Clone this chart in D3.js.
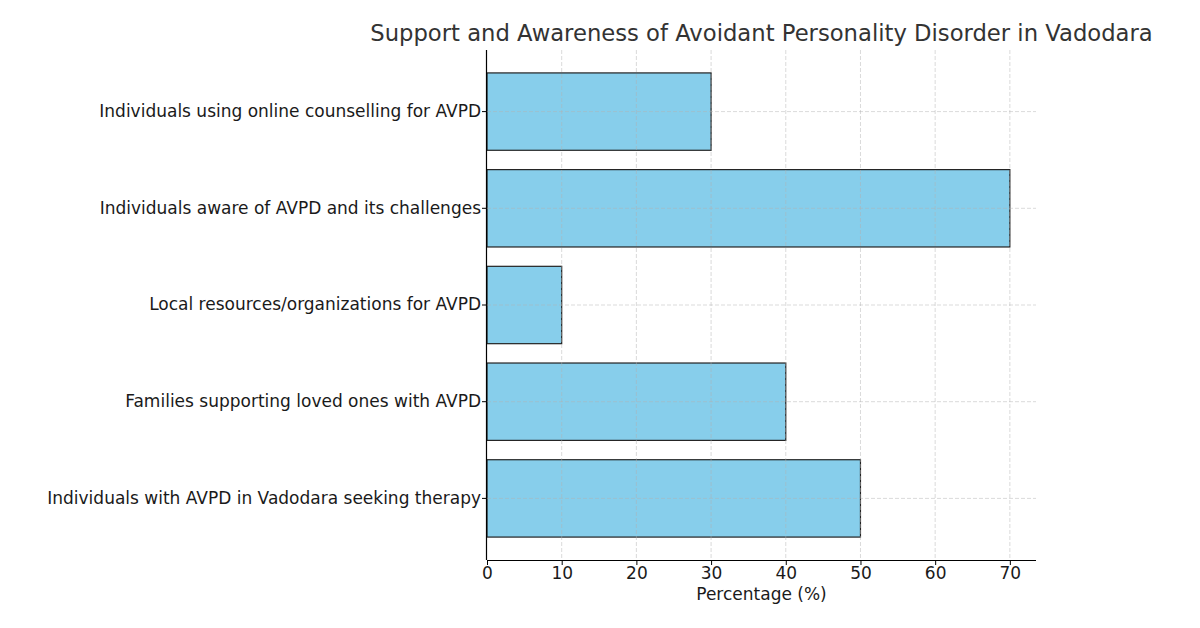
<!DOCTYPE html>
<meta charset="utf-8">
<script src="https://d3js.org/d3.v7.min.js"></script>
<style>
  body { margin: 0; background: #fff; }
  text { font-family: "DejaVu Sans", sans-serif; }
</style>
<div id="chart"></div>
<script>
    // data, top to bottom as drawn
    var categories = [
        "Individuals using online counselling for AVPD",
        "Individuals aware of AVPD and its challenges",
        "Local resources/organizations for AVPD",
        "Families supporting loved ones with AVPD",
        "Individuals with AVPD in Vadodara seeking therapy"
    ];
    var values = [30, 70, 10, 40, 50];
    var xTicks = [0, 10, 20, 30, 40, 50, 60, 70];

    var W = 1200, H = 628;
    var pLeft = 487, pRight = 1036, pTop = 50, pBottom = 560;

    var svg = d3.select("#chart").append("svg")
        .attr("width", W).attr("height", H);

    var x = d3.scaleLinear().domain([0, 73.5]).range([pLeft, pRight]);
    var y = d3.scaleBand().domain(categories).range([pTop, pBottom])
        .paddingInner(0.2).paddingOuter(0.237);

    var data = categories.map(function(c, i) { return {cat: c, val: values[i]}; });

    // bars
    svg.selectAll("rect.bar")
        .data(data)
        .enter().append("rect")
            .attr("class", "bar")
            .attr("x", x(0))
            .attr("y", function(d) { return y(d.cat); })
            .attr("width", function(d) { return x(d.val) - x(0); })
            .attr("height", y.bandwidth())
            .style("fill", "#87CEEB")
            .style("stroke", "#222")
            .style("stroke-width", 1.2);

    // grid (drawn on top of bars, like the original)
    svg.append("g").selectAll("line")
        .data(xTicks.slice(1))
        .enter().append("line")
            .attr("x1", function(d) { return x(d); }).attr("x2", function(d) { return x(d); })
            .attr("y1", pTop).attr("y2", pBottom)
            .style("stroke", "#b0b0b0").style("stroke-opacity", 0.6)
            .style("stroke-dasharray", "4,2").style("stroke-width", 0.8);
    svg.append("g").selectAll("line")
        .data(categories)
        .enter().append("line")
            .attr("x1", pLeft).attr("x2", pRight)
            .attr("y1", function(d) { return y(d) + y.bandwidth() / 2; })
            .attr("y2", function(d) { return y(d) + y.bandwidth() / 2; })
            .style("stroke", "#b0b0b0").style("stroke-opacity", 0.6)
            .style("stroke-dasharray", "4,2").style("stroke-width", 0.8);

    // x axis
    var xAxis = svg.append("g")
        .attr("transform", "translate(0," + pBottom + ")")
        .call(d3.axisBottom(x).tickValues(xTicks).tickSize(5).tickPadding(2));
    xAxis.select(".domain").attr("d", "M" + pLeft + ",0.5H" + pRight).style("stroke", "#000").style("stroke-width", 1.2);
    xAxis.selectAll("text").style("font-size", "17px").style("fill", "#1a1a1a")
        .style("font-family", "DejaVu Sans");

    // y axis
    var yAxis = svg.append("g")
        .attr("transform", "translate(" + pLeft + ",0)")
        .call(d3.axisLeft(y).tickSize(5).tickPadding(1));
    yAxis.select(".domain").attr("d", "M-0.5," + pTop + "V" + pBottom).style("stroke", "#000").style("stroke-width", 1.2);
    yAxis.selectAll("text").style("font-size", "17px").style("fill", "#1a1a1a")
        .style("font-family", "DejaVu Sans");

    // x label
    svg.append("text")
        .attr("x", (pLeft + pRight) / 2)
        .attr("y", 600)
        .attr("text-anchor", "middle")
        .style("font-size", "17px")
        .style("fill", "#1a1a1a")
        .text("Percentage (%)");

    // title
    svg.append("text")
        .attr("x", (pLeft + pRight) / 2)
        .attr("y", 41)
        .attr("text-anchor", "middle")
        .style("font-size", "22.7px")
        .style("fill", "#333")
        .text("Support and Awareness of Avoidant Personality Disorder in Vadodara");
</script>
